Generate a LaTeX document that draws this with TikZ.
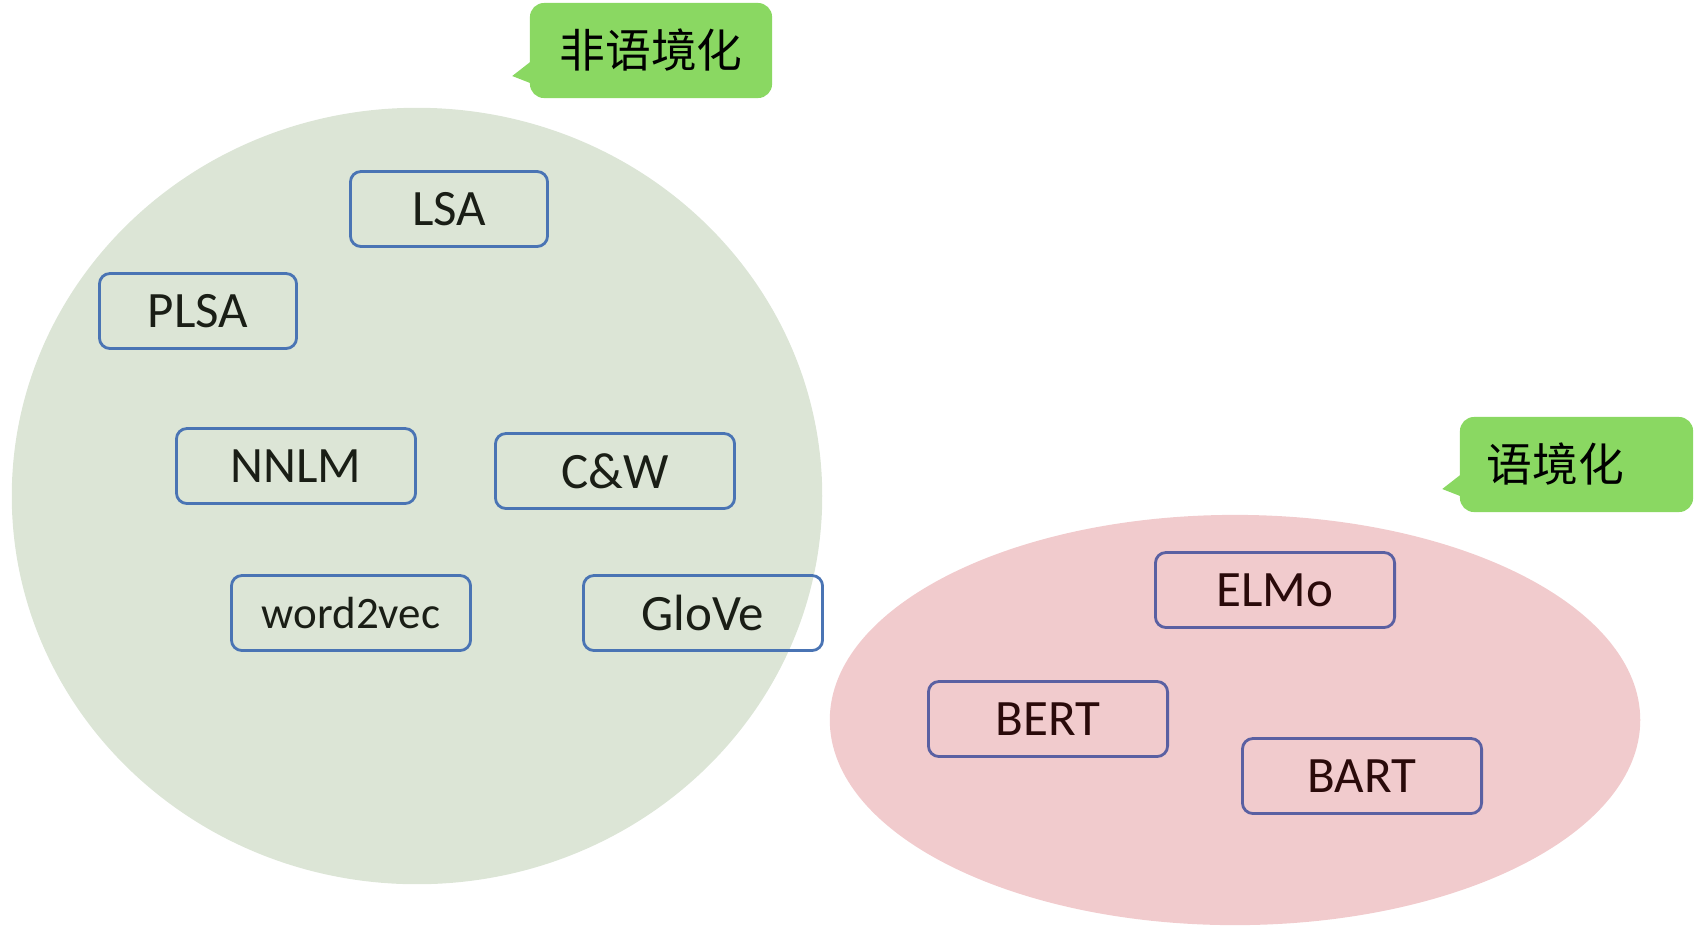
\documentclass[tikz,border=0pt]{standalone}
\usepackage{fontspec}
\setmainfont{Carlito}
\newfontfamily\cjkfont{Noto Sans CJK SC}
\usepackage{tikz}
\usetikzlibrary{shapes.geometric}

\definecolor{greenbg}{HTML}{DCE5D6}
\definecolor{pinkbg}{HTML}{F1CBCD}
\definecolor{taggreen}{HTML}{8AD862}
\definecolor{boxblue}{HTML}{4A74B4}
\definecolor{boxpurple}{HTML}{5A60A2}
\definecolor{darktext}{HTML}{1A1E16}
\definecolor{browntext}{HTML}{2A0A0A}

\tikzset{
  group/.style={ellipse, inner sep=0pt, draw=none},
  model/.style={draw=boxblue, line width=0.8pt, rounded corners=3pt,
    minimum width=2.39cm, minimum height=0.75cm, text=darktext,
    font=\fontsize{14.5}{16}\selectfont},
  ctxmodel/.style={model, draw=boxpurple, text=browntext},
  tag/.style={fill=taggreen, rounded corners=4pt, minimum height=0.95cm,
    font=\cjkfont\fontsize{13}{15}\selectfont}
}

\begin{document}
\begin{tikzpicture}[x=0.01cm,y=-0.01cm]
            \useasboundingbox (0,0) rectangle (1695,927);

            \node[group, fill=greenbg, minimum width=8.10cm, minimum height=7.76cm] (static) at (417,496) {};
            \node[group, fill=pinkbg, minimum width=8.10cm, minimum height=4.10cm]  (ctx) at (1235,720) {};

            \node[model, minimum width=1.97cm] (lsa)  at (449,209) {LSA};
            \node[model, minimum width=1.97cm] (plsa) at (198,311) {PLSA};
            \node[model]                       (nnlm) at (296,466) {NNLM};
            \node[model]                       (cw)   at (615,471) {C\&W};
            \node[model, font=\fontsize{12.8}{14}\selectfont] (w2v) at (351,613) {word2vec};
            \node[model]                       (glove) at (703,613) {GloVe};

            \node[ctxmodel] (elmo) at (1275,590) {ELMo};
            \node[ctxmodel] (bert) at (1048,719) {BERT};
            \node[ctxmodel] (bart) at (1362,776) {BART};

            \node[tag, minimum width=2.42cm] (statictag) at (651,50.5) {非语境化};
            \fill[taggreen] ([xshift=1pt,yshift=-0.095cm]statictag.west) -- ([xshift=-0.17cm,yshift=-0.255cm]statictag.west)
                -- ([xshift=1pt,yshift=-0.335cm]statictag.west) -- cycle;

            \node[tag, minimum width=2.33cm] (ctxtag) at (1576.5,464.5) {语境化\rule{0.42cm}{0pt}};
            \fill[taggreen] ([xshift=1pt,yshift=-0.085cm]ctxtag.west) -- ([xshift=-0.17cm,yshift=-0.245cm]ctxtag.west)
                -- ([xshift=1pt,yshift=-0.325cm]ctxtag.west) -- cycle;
        \end{tikzpicture}
\end{document}
